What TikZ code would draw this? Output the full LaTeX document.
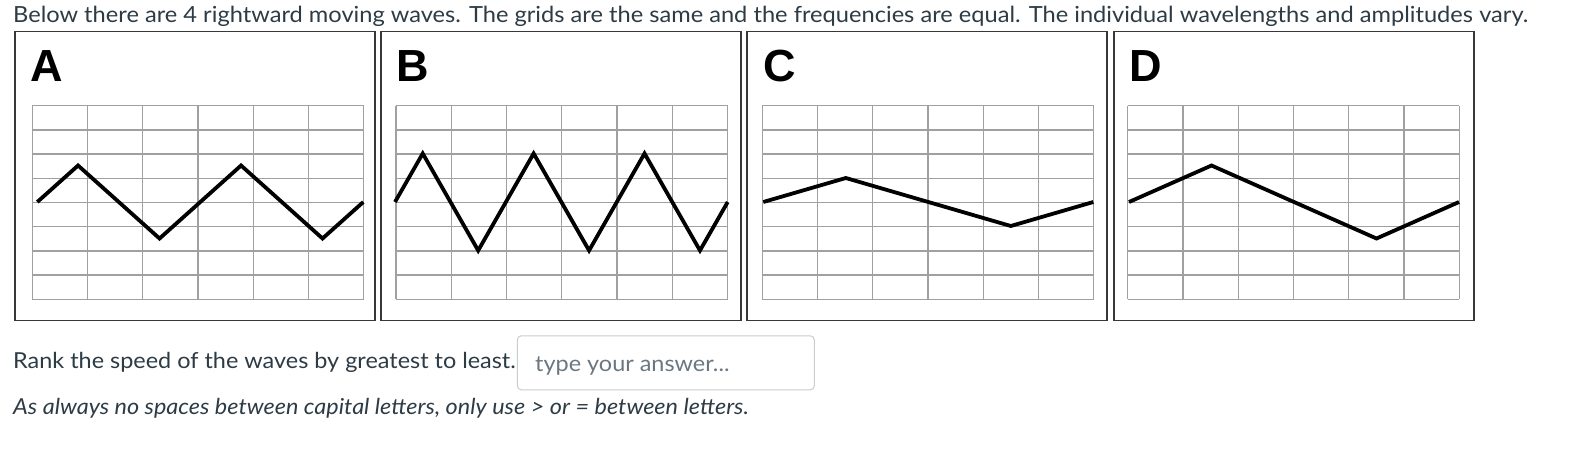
\documentclass[tikz,border=0pt]{standalone}
\usepackage{fontspec}
\setmainfont{Lato}[FakeStretch=1.065]
\newfontfamily\letterfont{Liberation Sans}
\usetikzlibrary{positioning}
\definecolor{ink}{HTML}{2D3B45}
\definecolor{hint}{HTML}{6B7780}
\definecolor{boxline}{HTML}{C7CDD1}
\definecolor{gridline}{HTML}{A0A0A0}
\definecolor{frameline}{HTML}{383838}

\begin{document}
\begin{tikzpicture}[x=1pt,y=-1pt,
	frame/.style={draw=frameline,line width=1.8pt},
	gridlines/.style={draw=gridline,line width=1.3pt},
	wave/.style={line width=3.8pt,line join=miter,black},
	letter/.style={anchor=base west,inner sep=0pt,font=\letterfont\bfseries\fontsize{45}{45}\selectfont},
	txt/.style={anchor=base west,inner sep=0pt,text=ink,font=\fontsize{22}{24}\selectfont}]
	\useasboundingbox (0,0) rectangle (1578,474);
	\node[txt,font=\fontsize{22.2}{24}\selectfont] (title) at (13,22.7) {Below there are 4 rightward moving waves. The grids are the same and the frequencies are equal. The individual wavelengths and amplitudes vary.};

	% panel: left edge / letter / grid left / wave start / wave end / amplitude / cycles
	\foreach \px/\lab/\gx/\xa/\xb/\amp/\n in {15/A/32.3/37.3/363.3/36.5/2, 381/B/396/395/727.7/48.5/3, 747.3/C/762.3/763.3/1093.3/24/1, 1114/D/1127.7/1129/1459/36.5/1}{
		\draw[frame] (\px,31.5) rectangle ++(360,289);
		\node[letter] (label\lab) at (\px+15.5,81) {\lab};
		\foreach \i in {0,...,6}
			\draw[gridlines] (\gx+\i*55.25,105.7) -- ++(0,193.6);
		\foreach \j in {0,...,8}
			\draw[gridlines] (\gx,105.7+\j*24.2) -- ++(331.5,0);
		\pgfmathsetmacro{\lam}{(\xb-\xa)/\n}
		\pgfmathtruncatemacro{\m}{2*\n}
		\draw[wave] (\xa,202) foreach \k in {1,...,\m} {
			-- ({\xa+(2*\k-1)*\lam/4},{202+\amp*cos(180*\k)})
		} -- (\xb,202);
	}

	\node[txt] (question) at (13,368.3) {Rank the speed of the waves by greatest to least.};
	\node[draw=boxline,line width=1pt,rounded corners=4pt,minimum width=297pt,minimum height=54pt,inner sep=0pt] (answer) at (665.8,362.8) {};
	\node[txt,text=hint] (placeholder) at (535,371) {type your answer...};
	\node[txt,font=\fontsize{22}{24}\selectfont\itshape] (note) at (13,414.3) {As always no spaces between capital letters, only use > or = between letters.};
\end{tikzpicture}
\end{document}
